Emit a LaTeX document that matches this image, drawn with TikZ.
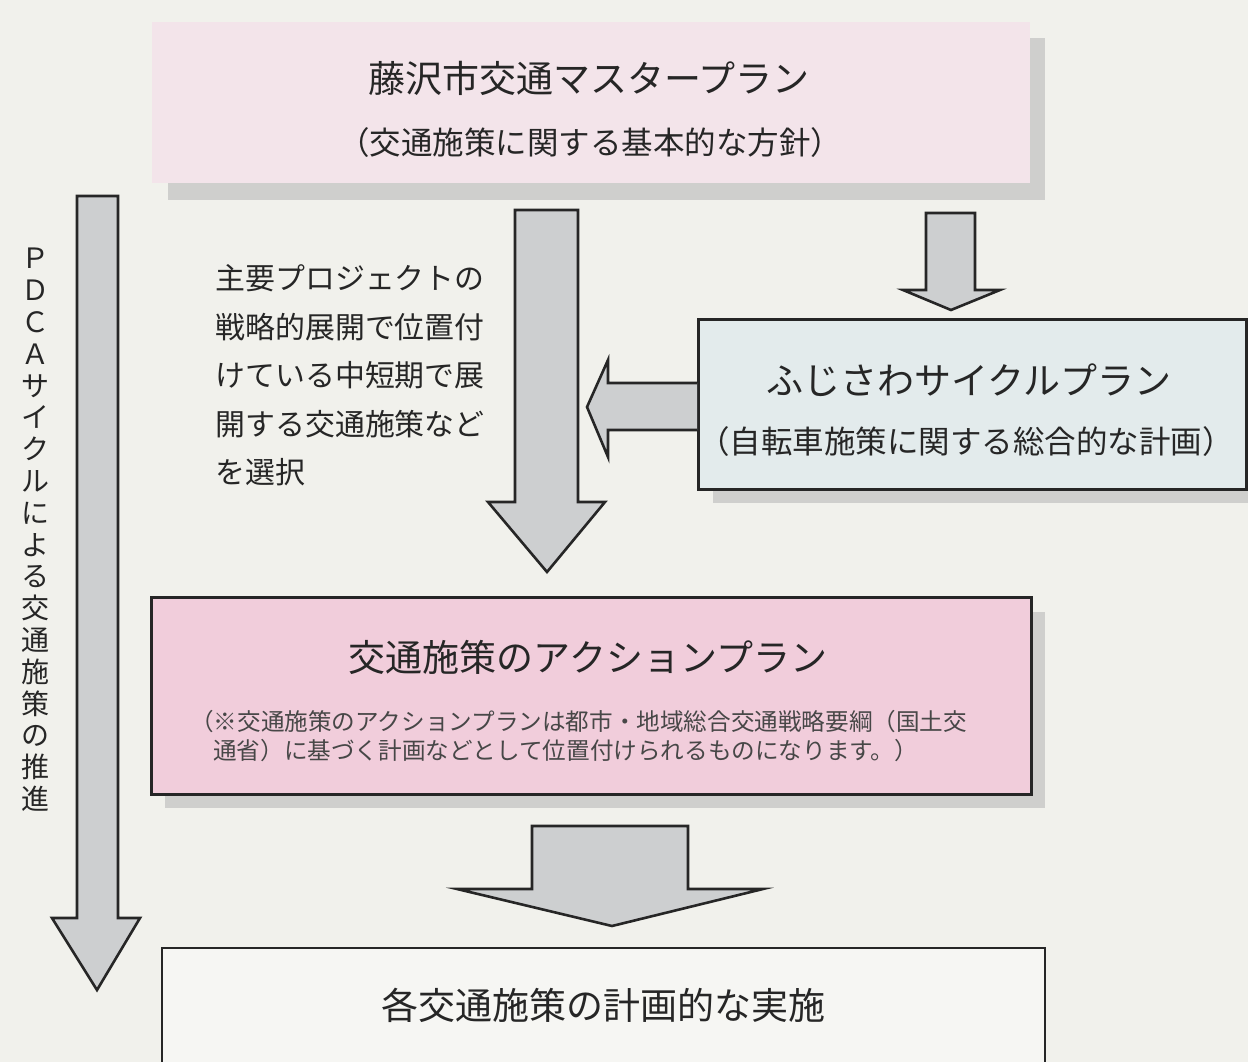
\documentclass[tikz,border=0pt]{standalone}
\usepackage{fontspec}
\newfontfamily\cjk{Noto Sans CJK JP}
\definecolor{bgc}{HTML}{F1F1EC}
\definecolor{shadowc}{HTML}{CFCFCD}
\definecolor{toppink}{HTML}{F3E4EA}
\definecolor{actpink}{HTML}{F1CDDB}
\definecolor{cycblue}{HTML}{E3EBEC}
\definecolor{botwhite}{HTML}{F6F6F3}
\definecolor{arrowfill}{HTML}{CDCFD0}
\definecolor{inkc}{HTML}{262626}
\tikzset{
  planbox/.style={draw=inkc, line width=2.6pt, anchor=north west, inner sep=0pt},
  blockarrow/.style={draw=inkc, line width=2.6pt, fill=arrowfill, line join=miter},
  titletext/.style={text=inkc, font=\cjk\fontsize{37}{41}\selectfont},
  subtext/.style={text=inkc, font=\cjk\fontsize{31.5}{35}\selectfont},
  notetext/.style={text=inkc!85, font=\cjk\fontsize{23.6}{28}\selectfont, anchor=west, inner sep=0pt},
  sidetext/.style={text=inkc, font=\cjk\fontsize{29.9}{48.5}\selectfont, align=left, anchor=north west}
}
\begin{document}
\begin{tikzpicture}[x=1pt,y=-1pt]
\useasboundingbox (0,0) rectangle (1248,1062);
\clip (0,0) rectangle (1248,1062);
\fill[bgc] (0,0) rectangle (1248,1062);

% top box: master plan
\fill[shadowc] (168,38) rectangle (1045,200);
\node[anchor=north west, fill=toppink, minimum width=878pt, minimum height=161pt, inner sep=0pt] (master) at (152,22) {};
\node[titletext] (masterT) at (589,78) {藤沢市交通マスタープラン};
\node[subtext] (masterS) at (590,143) {（交通施策に関する基本的な方針）};

% PDCA arrow
\draw[blockarrow] (77,196) -- (118,196) -- (118,918) -- (140,918) -- (97,990) -- (52,918) -- (77,918) -- cycle;
\node[text=inkc, font=\cjk\fontsize{28}{31.8}\selectfont, align=center] (pdca) at (35,530)
  {Ｐ\\Ｄ\\Ｃ\\Ａ\\サ\\イ\\ク\\ル\\に\\よ\\る\\交\\通\\施\\策\\の\\推\\進};

% main down arrow
\draw[blockarrow] (515,210) -- (578,210) -- (578,502) -- (605,502) -- (547,572) -- (488,502) -- (515,502) -- cycle;

% side text
\node[sidetext] (select) at (212,261) {主要プロジェクトの\\戦略的展開で位置付\\けている中短期で展\\開する交通施策など\\を選択};

% small arrow to cycle plan
\draw[blockarrow] (926,213) -- (975,213) -- (975,290) -- (1000,290) -- (951,310) -- (903,290) -- (926,290) -- cycle;

% cycle plan box
\fill[shadowc] (713,488) rectangle (1248,503);
\node[planbox, fill=cycblue, minimum width=548pt, minimum height=170pt] (cycle) at (697,318) {};
\node[titletext] (cycleT) at (969,380) {ふじさわサイクルプラン};
\node[subtext] (cycleS) at (966,442) {（自転車施策に関する総合的な計画）};

% left arrow from cycle plan
\draw[blockarrow] (cycle.west |- 0,383) -- (608,383) -- (608,360) -- (587,407) -- (608,457) -- (608,430) -- (cycle.west |- 0,430);

% action plan box
\fill[shadowc] (165,612) rectangle (1045,808);
\node[planbox, fill=actpink, minimum width=880pt, minimum height=197pt] (action) at (150,596) {};
\node[titletext] (actionT) at (588,657) {交通施策のアクションプラン};
\node[notetext] (note1) at (190,722) {（※交通施策のアクションプランは都市・地域総合交通戦略要綱（国土交};
\node[notetext] (note2) at (213,751) {通省）に基づく計画などとして位置付けられるものになります。）};

% bottom arrow
\draw[blockarrow] (532,826) -- (688,826) -- (688,889) -- (763,889) -- (612,926) -- (457,889) -- (532,889) -- cycle;

% bottom box
\fill[botwhite] (162,948) rectangle (1045,1070);
\draw[draw=inkc, line width=2.6pt] (162,1070) -- (162,948) -- (1045,948) -- (1045,1070);
\coordinate (bottom) at (603,1005);
\node[titletext] (bottomT) at (bottom) {各交通施策の計画的な実施};
\end{tikzpicture}
\end{document}
